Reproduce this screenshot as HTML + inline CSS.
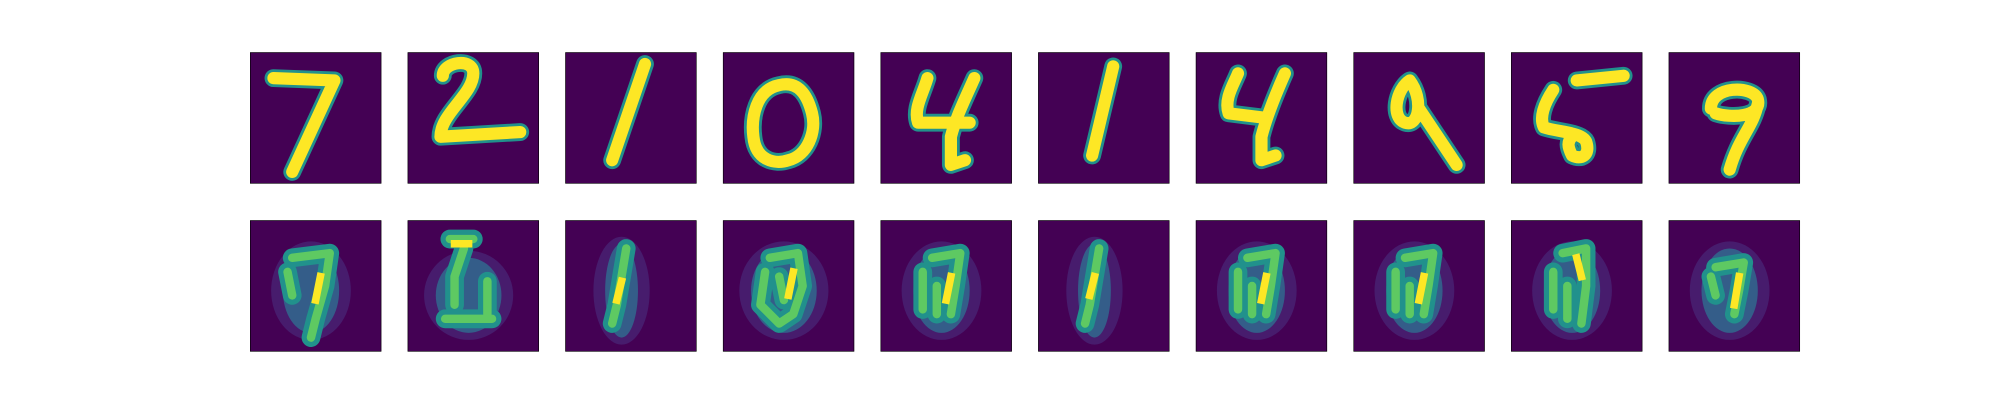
<!DOCTYPE html>
<html><head><meta charset="utf-8"><style>
body{margin:0;background:#fff;width:2000px;height:400px;overflow:hidden;font-family:"Liberation Sans",sans-serif}
svg{position:absolute;left:0;top:0}
</style></head><body>
<svg id="fig" width="2000" height="400" xmlns="http://www.w3.org/2000/svg"></svg>
<script>
// original digit strokes (28x28 pixel coordinates)
const digitLabels = ["7","2","1","0","4","1","4","9","5","9"];
const digitPaths = [
 "M5,5.5 L18,6 L9,25.5",
 "M7.5,5 C7.5,2 14,1 14,4.5 C14,9 7,13 7,18 L24,17",
 "M17,2.5 L10,23",
 "M12,7 C7,8 6,14 6.5,18 C7,23 11,24 14,23 C18,22 20,17 19,13 C18,9 16,6 12,7",
 "M10,5.5 C9,9 7,12 8,15 L19,15 M20,5.5 C18,10 16,14 15,18 L15,24 L18,23",
 "M16,3 L11.5,22",
 "M9,4.5 C8,7 6,10 7,13 L15,14 M19,4.5 C17,9 15,14 14,18 L14,23 L17,22",
 "M12,6 C9,8 8,14 11,15 C14,16 15,10 12,6 M14,12 L22,24",
 "M14,6 L24,5 M9,8 C7,11 6,14 7,16 C10,17 15,17 16,19 C17,22 15,23 13,22 C12,20 12,19 13,18",
 "M9,12 C9,7 18,7 19,10 C20,14 13,14 10,13 M19,11 C18,16 15,18 13,25"
];
// reconstruction blobs: center x, center y, radius x, radius y (28x28 coords)
const blobCx = [13,13,12,13,13,12,13,13,13,13];
const blobCy = [15,16,15,15,15,15,15,15,15,15];
const blobRx = [6,7,3.5,7,6,3.5,6,6,6,6];
const blobRy = [9,8,10,9,9,10,9,9,9,9];
const reconPaths = [
 "M9,8 L17,7 L16,14 L14,21 L13,25 M8,11 L9,16",
 "M9,4 L14,4 M12,6 L10,12 L10,18 M8,21 L18,21 M17,13 L17,20",
 "M13,6 L12,12 L11,18 L10,22",
 "M10,8 L16,7 L17,14 L15,20 L12,22 L8,18 L9,11 M12,12 L13,17",
 "M11,8 L17,7 L16,14 L15,20 M9,11 L9,19 M12,14 L12,20",
 "M13,6 L12,12 L11,18 L10,22",
 "M11,8 L17,7 L16,14 L15,20 M9,11 L9,19 M12,14 L12,20",
 "M11,8 L17,7 L16,14 L15,20 M9,11 L9,19 M12,14 L12,20",
 "M11,7 L16,6 L16,14 L15,22 M9,11 L9,19 M12,14 L12,21",
 "M10,10 L16,9 L15,15 L14,20 M9,12 L10,16"
];
const yellowPaths = [
 "M15,12 L14,17","M10,5 L13,5","M12,13 L11,17","M15,11 L14,16","M15,12 L14,17",
 "M12,12 L11,16","M15,12 L14,17","M15,12 L14,17","M14,8 L15,12","M15,12 L14,18"
];
const svg = document.getElementById('fig');
const NS = "http://www.w3.org/2000/svg";
const left = 250, step = 157.63, w = 131.36, rowY = [52.3, 220.3];
function mk(tag, attrs){const e=document.createElementNS(NS,tag);for(const k in attrs)e.setAttribute(k,attrs[k]);return e;}
for (let r=0;r<2;r++){
 for (let i=0;i<digitLabels.length;i++){
  const x = left + i*step, y = rowY[r];
  const g = mk('svg',{x:x,y:y,width:w,height:w,viewBox:"0 0 28 28"});
  
  
  g.appendChild(mk('rect',{x:0,y:0,width:28,height:28,fill:"#440154"}));
  if (r===0){
   g.appendChild(mk('path',{d:digitPaths[i],fill:"none",stroke:"#21918c","stroke-width":3.8,"stroke-linecap":"round","stroke-linejoin":"round"}));
   g.appendChild(mk('path',{d:digitPaths[i],fill:"none",stroke:"#fde725","stroke-width":2.6,"stroke-linecap":"round","stroke-linejoin":"round"}));
  } else {
   g.appendChild(mk('ellipse',{cx:blobCx[i],cy:blobCy[i],rx:blobRx[i]+2.5,ry:blobRy[i]+1.5,fill:"#482878",opacity:0.7}));
   g.appendChild(mk('ellipse',{cx:blobCx[i],cy:blobCy[i],rx:blobRx[i],ry:blobRy[i],fill:"#31688e",opacity:0.85}));
   g.appendChild(mk('path',{d:reconPaths[i],fill:"none",stroke:"#21918c","stroke-width":4,"stroke-linecap":"round","stroke-linejoin":"round"}));
   g.appendChild(mk('path',{d:reconPaths[i],fill:"none",stroke:"#5ec962","stroke-width":1.8,"stroke-linecap":"round","stroke-linejoin":"round"}));
   g.appendChild(mk('path',{d:yellowPaths[i],fill:"none",stroke:"#fde725","stroke-width":1.6,"stroke-linecap":"square"}));
  }
  g.appendChild(mk('rect',{x:0.04,y:0.04,width:27.92,height:27.92,fill:"none",stroke:"#000","stroke-width":0.18}));
  svg.appendChild(g);
 }
}
</script>
</body></html>
